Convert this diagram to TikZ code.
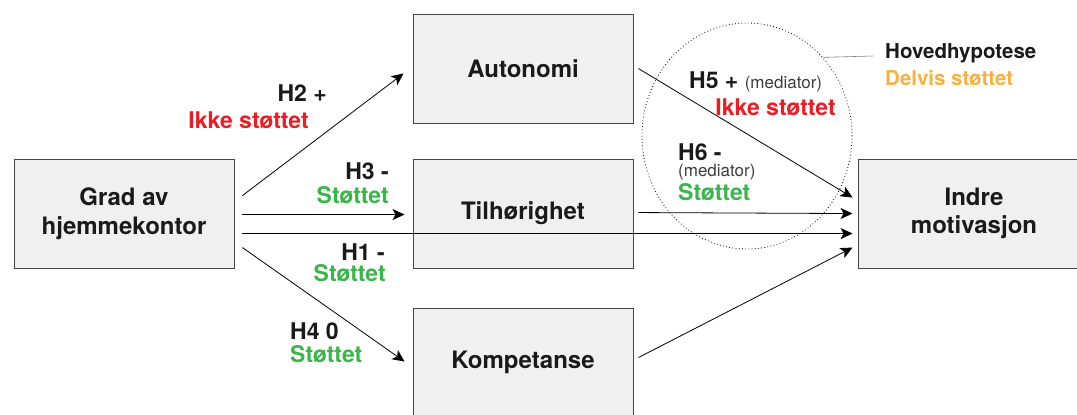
\documentclass[tikz,border=0pt]{standalone}
\usepackage{fontspec}
\setmainfont{TeX Gyre Heros}
\usetikzlibrary{arrows.meta,calc,shapes.geometric}
\definecolor{boxfill}{RGB}{240,240,240}
\definecolor{boxline}{RGB}{70,70,70}
\definecolor{myred}{RGB}{236,28,36}
\definecolor{mygreen}{RGB}{57,181,74}
\definecolor{myorange}{RGB}{250,176,64}
\definecolor{mytext}{RGB}{26,26,26}
\definecolor{medgray}{RGB}{60,60,60}
\tikzset{
  x=1pt, y=-1pt,
  box/.style={draw=boxline, line width=0.9pt, fill=boxfill, inner sep=0pt, align=center,
    font=\fontsize{24}{28.5}\selectfont\bfseries, text=mytext},
  lbl/.style={inner sep=0pt, font=\fontsize{23}{28}\selectfont\bfseries, text=mytext},
  redl/.style={lbl, text=myred},
  greenl/.style={lbl, text=mygreen},
  medl/.style={inner sep=0pt, font=\fontsize{17}{20}\selectfont, text=medgray},
  arr/.style={draw=black, line width=0.8pt, -{Stealth[length=12pt,width=11pt,inset=3pt]}},
}
\begin{document}
\begin{tikzpicture}
\useasboundingbox (0,0) rectangle (1077,415);
\clip (0,0) rectangle (1077,415);
% boxes
\node[box, minimum width=220pt, minimum height=109pt] (grad) at (124,213.5) {Grad av\\hjemmekontor};
\node[box, minimum width=220pt, minimum height=109pt] (aut) at (523,68.5) {Autonomi};
\node[box, minimum width=220pt, minimum height=109pt] (til) at (523,213.5) {Tilhørighet};
\node[box, minimum width=220pt, minimum height=109pt] (komp) at (523,362.5) {Kompetanse};
\node[box, minimum width=232pt, minimum height=109pt] (ind) at (974,213.5) {Indre\\motivasjon};
% dotted circle
\node[draw=black, dash pattern=on 0.8pt off 2.4pt, line width=0.8pt, ellipse, minimum width=210pt, minimum height=226pt, inner sep=0pt] (circ) at (747,136) {};
% arrows
\draw[arr] ($(grad.north east)+(8,37)$) -- ($(aut.south west)+(-9,-50)$);
\draw[arr] ($(grad.north east)+(8,56)$) -- ($(til.north west)+(-8,56)$);
\draw[arr] ($(grad.north east)+(8,75)$) -- ($(ind.north west)+(-5,75)$);
\draw[arr] ($(grad.north east)+(8,89)$) -- ($(komp.north west)+(-8,54)$);
\draw[arr] ($(aut.north east)+(5,55)$) -- ($(ind.north west)+(-5,39)$);
\draw[arr] ($(til.north east)+(5,54)$) -- ($(ind.north west)+(-5,55)$);
\draw[arr] ($(komp.north east)+(5,50)$) -- ($(ind.north west)+(-5,89)$);
% labels
\node[lbl, anchor=east] (h2) at (327,93) {H2 +};
\node[redl, anchor=east] (h2s) at (309,120) {Ikke støttet};
\node[lbl, anchor=east] (h3) at (389,171) {H3 -};
\node[greenl, anchor=east] (h3s) at (389,195) {Støttet};
\node[lbl, anchor=east] (h1) at (385,252) {H1 -};
\node[greenl, anchor=east] (h1s) at (386,273) {Støttet};
\node[lbl, anchor=west] (h4) at (290,331) {H4 0};
\node[greenl, anchor=west] (h4s) at (290,354) {Støttet};
\node[lbl, anchor=base west] (h5) at (689,88.5) {H5 + \fontsize{17}{20}\selectfont\mdseries\color{medgray}(mediator)};
\node[redl, anchor=east] (h5s) at (836,107) {Ikke støttet};
\node[lbl, anchor=west] (h6) at (678,152) {H6 -};
\node[medl, anchor=west] (h6m) at (678,172) {(mediator)};
\node[greenl, anchor=west] (h6s) at (678,192) {Støttet};
\node[inner sep=0pt, anchor=west, font=\fontsize{20.5}{24}\selectfont\bfseries, text=mytext] (hov) at (885,53) {Hovedhypotese};
\node[inner sep=0pt, anchor=west, font=\fontsize{20.5}{24}\selectfont\bfseries, text=myorange] (del) at (885,78) {Delvis støttet};
\coordinate (pt) at (873,56);
\draw[gray, line width=0.6pt] (circ.46) -- (pt);
\end{tikzpicture}
\end{document}
